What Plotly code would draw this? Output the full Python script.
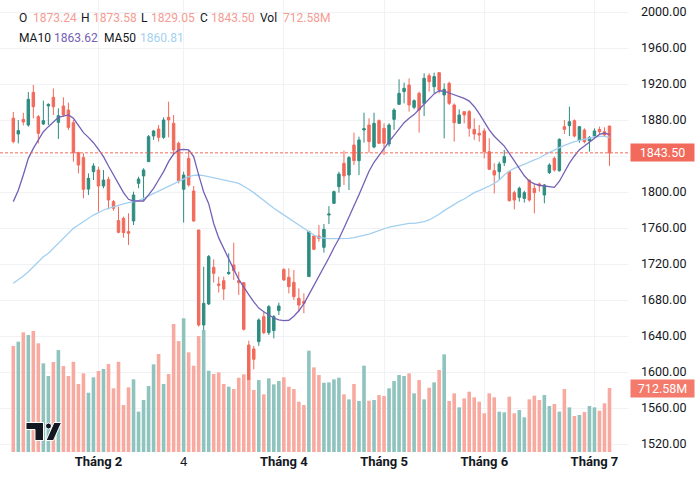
import plotly.graph_objects as go

# ---------------- data ----------------
opens = [1882, 1864.4, 1880.7, 1874.4, 1910.7, 1883.7, 1875.6, 1895.6, 1905.2, 1877.4,
         1895.6, 1891.1, 1877, 1843.7, 1838.2, 1803.2, 1822.6, 1824.4, 1806.7, 1814,
         1789.3, 1768.2, 1770.7, 1756, 1767.8, 1809.6, 1817.8, 1833.7, 1862.2, 1870,
         1860.7, 1883, 1876.3, 1854.1, 1803, 1837.4, 1801.1, 1757.8, 1652.2, 1675.6,
         1716.3, 1697.8, 1701.5, 1709.3, 1718.9, 1701.5, 1699.3, 1630, 1625.6, 1633.7,
         1661.5, 1643.7, 1646, 1668.2, 1714, 1705.2, 1699.6, 1681.9, 1678.2, 1706,
         1751.1, 1751.1, 1738.5, 1774.4, 1787.4, 1805.9, 1831.9, 1818.9, 1852.2, 1834.8,
         1868.9, 1874.4, 1850, 1879.3, 1870.7, 1853.3, 1880.7, 1897.4, 1911.5, 1918.9,
         1894.1, 1909.6, 1898.5, 1929.3, 1917, 1932.6, 1907.8, 1920.7, 1896.7, 1876.3,
         1889.3, 1889.3, 1869.6, 1865.2, 1867.8, 1844.8, 1823.7, 1822.6, 1832.6, 1822.6,
         1799.3, 1794.1, 1792.9, 1813.3, 1804.1, 1808.9, 1796.7, 1821.5, 1837.4, 1823.7,
         1872.6, 1873.7, 1879.3, 1857.8, 1868.9, 1857, 1862.2, 1869.6, 1867, 1873.24]
highs = [1889, 1880, 1888, 1911, 1919, 1885.6, 1901.5, 1898.5, 1915, 1893,
         1905.2, 1899.3, 1880, 1844.8, 1843, 1820.7, 1831.9, 1828.1, 1824.4, 1817,
         1791.1, 1783.7, 1772.6, 1776.3, 1800.4, 1817, 1826.3, 1863.3, 1868.9, 1874.4,
         1883, 1900.4, 1885.6, 1856, 1822.6, 1846.7, 1806.7, 1757.8, 1717, 1730,
         1725.2, 1706, 1706, 1731.9, 1743.7, 1711.5, 1700, 1634.8, 1629, 1659.6,
         1667, 1674.4, 1663.3, 1677, 1715.2, 1715.2, 1713.3, 1693, 1687.4, 1757,
         1752.2, 1763.3, 1764.4, 1784.4, 1801.5, 1822.6, 1846, 1840, 1866, 1861.5,
         1888.1, 1881.9, 1888.1, 1880.7, 1876.3, 1876.3, 1893, 1925.2, 1921.5, 1926.3,
         1903, 1911.5, 1931.9, 1931.9, 1932.6, 1932.6, 1920.7, 1922.6, 1898.5, 1891.9,
         1889.3, 1891.1, 1881.9, 1874.4, 1870.7, 1859.6, 1831.9, 1833.7, 1846.7, 1822.6,
         1801.5, 1806, 1801.5, 1813.3, 1809.6, 1810.4, 1808.9, 1831.9, 1839.3, 1859.6,
         1880, 1894.8, 1880.7, 1873.3, 1870.7, 1862.2, 1870.7, 1872.6, 1871.9, 1873.58]
lows = [1854, 1854, 1874, 1872.6, 1882, 1854, 1874.4, 1874.4, 1885.6, 1859,
        1883.7, 1869, 1833.7, 1820.7, 1793, 1796.7, 1813.3, 1778.2, 1804.1, 1780.7,
        1779.3, 1754.1, 1749.3, 1741.1, 1763.3, 1804.1, 1791.1, 1833.7, 1857.8, 1856,
        1859, 1860.7, 1841.1, 1809.6, 1766, 1806, 1767, 1650.4, 1645, 1674.4,
        1699.3, 1688.2, 1680, 1707.8, 1702.2, 1685.6, 1646, 1583.7, 1603, 1629,
        1641.9, 1641.1, 1637.4, 1663.3, 1701.5, 1687.4, 1680, 1667, 1665.2, 1706,
        1735.6, 1744.8, 1732.6, 1764.4, 1786.7, 1799.3, 1807.8, 1802.2, 1830, 1818.9,
        1854.8, 1843.7, 1848.5, 1853.3, 1841.1, 1850.4, 1869, 1896.7, 1898.5, 1889.3,
        1891.9, 1866, 1884.4, 1911.5, 1909.6, 1909.6, 1859.6, 1896.7, 1856, 1875.6,
        1876.3, 1861.5, 1857.8, 1855.9, 1837.4, 1824.4, 1798.5, 1813.3, 1828.9, 1789.3,
        1780.7, 1789.3, 1788.2, 1789.3, 1776.3, 1800.4, 1787.4, 1820, 1822.6, 1822.6,
        1864.4, 1862.2, 1860.7, 1854.8, 1854.1, 1844.8, 1860.7, 1863.3, 1862.2, 1829.05]
closes = [1856, 1868.2, 1877.8, 1903, 1894.8, 1865.2, 1879.3, 1897.4, 1894.8, 1884.8,
          1885.6, 1871.8, 1843.7, 1830, 1803, 1815.2, 1828.9, 1806.7, 1813.3, 1791.1,
          1781.9, 1755.2, 1754.8, 1754.1, 1796.7, 1814.4, 1824.4, 1861.5, 1867.8, 1860.7,
          1880, 1880, 1846.7, 1812.6, 1818.9, 1807.8, 1767.8, 1652.2, 1676.3, 1728.2,
          1709.6, 1696.3, 1692.2, 1710.7, 1712.6, 1699.3, 1647.4, 1591.1, 1614.1, 1657.8,
          1643.7, 1672.6, 1661.5, 1673.4, 1702.2, 1694.8, 1683.7, 1674.4, 1676.3, 1756,
          1736.3, 1748.5, 1758.5, 1775.6, 1800.4, 1820, 1817.8, 1838.2, 1834.8, 1857.8,
          1870.4, 1856, 1876.3, 1854.1, 1854.1, 1874.4, 1891.1, 1909.6, 1915.2, 1896.7,
          1901.5, 1891.1, 1926.3, 1922.6, 1928.2, 1913.3, 1914.1, 1898.5, 1877, 1885.6,
          1885.6, 1870.7, 1864.4, 1863.3, 1844.8, 1825.2, 1818.9, 1831.1, 1839.3, 1790.4,
          1791.1, 1804.1, 1799.3, 1791.1, 1799.3, 1806.7, 1807.8, 1830, 1824.4, 1858.5,
          1869.6, 1878.1, 1862.2, 1872.6, 1855.9, 1860.7, 1867.8, 1867, 1863.3, 1843.50]
volumes_m = [1180, 1228, 1332, 1302, 1347, 1210, 987, 846, 1002, 1135,
             957, 846, 1005, 757, 876, 660, 831, 902, 924, 979,
             709, 1005, 523, 720, 809, 449, 579, 735, 976, 1091,
             757, 868, 1425, 1235, 1488, 1110, 961, 1291, 1358, 905,
             868, 887, 757, 727, 701, 827, 865, 801, 690, 801,
             642, 820, 753, 790, 831, 727, 701, 560, 523, 1128,
             942, 857, 771, 775, 809, 827, 642, 586, 757, 568,
             961, 571, 579, 634, 623, 709, 790, 857, 846, 876,
             653, 801, 586, 716, 775, 913, 1087, 568, 653, 497,
             597, 671, 609, 560, 431, 653, 609, 449, 442, 616,
             431, 467, 386, 586, 627, 579, 634, 512, 534, 449,
             701, 497, 401, 412, 445, 512, 497, 460, 542, 712.58]
ma10 = [1789.3, 1802.0, 1818.9, 1837.4, 1848.5, 1857.8, 1867.0, 1872.6, 1878.1, 1883.0,
        1884.4, 1885.6, 1881.9, 1874.4, 1865.9, 1860.7, 1854.8, 1847.4, 1839.3, 1828.9,
        1818.9, 1808.9, 1799.3, 1791.9, 1790.0, 1790.0, 1790.0, 1796.7, 1804.1, 1813.3,
        1822.6, 1833.7, 1842.2, 1846.7, 1847.4, 1846.7, 1839.3, 1819.0, 1800.0, 1787.0,
        1765.0, 1749.0, 1737.0, 1726.0, 1714.0, 1703.0, 1694.0, 1686.0, 1678.0, 1671.0,
        1667.0, 1663.0, 1660.0, 1658.0, 1657.0, 1657.5, 1662.0, 1668.0, 1676.0, 1686.0,
        1696.0, 1706.0, 1716.0, 1727.0, 1738.0, 1748.0, 1760.0, 1772.0, 1784.0, 1797.0,
        1810.0, 1823.0, 1833.0, 1841.0, 1849.0, 1856.0, 1863.0, 1870.0, 1877.0, 1882.0,
        1886.0, 1892.0, 1898.0, 1904.0, 1909.0, 1912.5, 1912.0, 1910.0, 1908.0, 1906.0,
        1904.0, 1901.0, 1895.0, 1887.0, 1878.0, 1869.0, 1862.0, 1857.0, 1851.0, 1843.0,
        1835.0, 1826.0, 1818.0, 1812.0, 1809.0, 1807.5, 1806.5, 1806.0, 1805.2, 1812.0,
        1822.0, 1832.0, 1840.0, 1847.0, 1851.0, 1855.0, 1860.0, 1864.0, 1865.5, 1863.62]
ma50 = [1698.5, 1702.2, 1706.7, 1711.5, 1717.0, 1722.6, 1728.1, 1731.9, 1737.4, 1743.0,
        1748.5, 1754.1, 1759.6, 1763.3, 1767.0, 1770.7, 1774.4, 1777.0, 1780.0, 1781.9,
        1783.7, 1785.6, 1786.7, 1788.1, 1789.3, 1790.4, 1793.0, 1795.6, 1798.5, 1801.1,
        1803.3, 1805.9, 1808.9, 1811.5, 1814.1, 1817.0, 1818.5, 1818.9, 1818.1, 1817.0,
        1816.3, 1814.8, 1813.3, 1812.6, 1811.1, 1809.6, 1806.7, 1803.0, 1799.3, 1794.8,
        1791.1, 1786.3, 1781.9, 1778.2, 1774.4, 1770.7, 1767.0, 1763.3, 1759.6, 1755.9,
        1752.2, 1749.6, 1748.5, 1748.1, 1748.1, 1748.1, 1748.3, 1748.5, 1749.3, 1750.4,
        1751.5, 1753.3, 1755.2, 1757.4, 1759.3, 1761.1, 1762.2, 1763.3, 1764.4, 1765.2,
        1765.2, 1765.9, 1767.0, 1768.9, 1771.9, 1775.2, 1779.3, 1783.0, 1786.7, 1789.6,
        1792.2, 1795.6, 1799.3, 1801.5, 1803.7, 1806.7, 1809.6, 1813.3, 1818.9, 1823.3,
        1826.3, 1828.9, 1831.1, 1833.3, 1835.6, 1837.8, 1841.1, 1844.1, 1846.7, 1849.3,
        1851.9, 1854.1, 1856.0, 1857.4, 1858.9, 1860.0, 1861.1, 1861.9, 1861.9, 1860.81]

tick_idx = [17, 34, 54, 74, 94, 116]
tick_text = ["<b>Tháng 2</b>", "4", "<b>Tháng 4</b>", "<b>Tháng 5</b>", "<b>Tháng 6</b>", "<b>Tháng 7</b>"]
price_ticks = [1520, 1560, 1600, 1640, 1680, 1720, 1760, 1800, 1840, 1880, 1920, 1960, 2000]

last_o, last_h, last_l, last_c = 1873.24, 1873.58, 1829.05, 1843.50
last_vol_label = "712.58M"
last_ma10, last_ma50 = 1863.62, 1860.81

# ---------------- styling ----------------
UP, DOWN = "#2e8c80", "#f26a5b"
VUP, VDOWN = "#8fc3be", "#f8aaa0"
MA10_C, MA50_C = "#7560b5", "#a3d0f0"
VAL_C = "#f59b92"
TXT = "#131722"
FONT = "Roboto"

W, H = 700, 488
ML, MR, MT, MB = 0, 72, 0, 36
PW, PH = W - ML - MR, H - MT - MB

def px(x):
    return (x - ML) / PW

def py(y):
    return 1 - (y - MT) / PH

x = list(range(len(closes)))
vol_colors = [VUP if c >= o else VDOWN for o, c in zip(opens, closes)]

fig = go.Figure()
fig.add_trace(go.Bar(x=x, y=volumes_m, marker_color=vol_colors, marker_line_width=0,
                     yaxis="y2", hoverinfo="skip", showlegend=False))
fig.add_trace(go.Candlestick(x=x, open=opens, high=highs, low=lows, close=closes,
                             increasing=dict(line=dict(color=UP, width=1), fillcolor=UP),
                             decreasing=dict(line=dict(color=DOWN, width=1), fillcolor=DOWN),
                             whiskerwidth=0, showlegend=False, hoverinfo="skip"))
fig.add_trace(go.Scatter(x=x, y=ma50, mode="lines", line=dict(color=MA50_C, width=1.3),
                         showlegend=False, hoverinfo="skip"))
fig.add_trace(go.Scatter(x=x, y=ma10, mode="lines", line=dict(color=MA10_C, width=1.3),
                         showlegend=False, hoverinfo="skip"))

# price scale: 2000 at y=12px, 1520 at y=444px
ppp = (444 - 12) / (2000 - 1520)
y_top = 2000 + 12 / ppp
y_bot = 2000 - (PH - 12) / ppp
# volume scale: 0 at bottom, 712.58 at y=388px
v_per_px = volumes_m[-1] / (PH - 388)
v_max = PH * v_per_px
# x scale: first bar at 13.3px, spacing 5.01px
x0 = -13.3 / 5.01
x1 = (PW - 13.3) / 5.01

# the 1840 tick label is hidden behind the last-price label in the reference
price_text = ["" if v == 1840 else f"{v:.2f}" for v in price_ticks]

fig.update_layout(
    width=W, height=H, margin=dict(l=ML, r=MR, t=MT, b=MB),
    paper_bgcolor="white", plot_bgcolor="white",
    font=dict(family=FONT, size=12.5, color=TXT),
    bargap=0.28, showlegend=False,
    xaxis=dict(range=[x0, x1], tickvals=tick_idx, ticktext=tick_text, showgrid=True,
               gridcolor="#f0f2f6", gridwidth=1, zeroline=False, showline=False,
               ticks="", rangeslider=dict(visible=False), tickfont=dict(size=13, color=TXT),
               fixedrange=True),
    yaxis=dict(range=[y_bot, y_top], side="right", tickvals=price_ticks,
               ticktext=price_text, showgrid=True,
               gridcolor="#f0f2f6", zeroline=False, showline=False, ticks="",
               ticklabelstandoff=12, tickfont=dict(size=12.5, color=TXT)),
    yaxis2=dict(range=[0, v_max], overlaying="y", visible=False),
)

# last-price dashed line
fig.add_shape(type="line", xref="paper", x0=0, x1=1, yref="y", y0=last_c, y1=last_c,
              line=dict(color=DOWN, width=1, dash="3px,2px"))

# right-side labels
fig.add_annotation(xref="paper", x=1, xanchor="left", xshift=2, yref="y", y=last_c,
                   text=f"{last_c:.2f}", showarrow=False, bgcolor=DOWN,
                   font=dict(color="white", size=12.5, family=FONT),
                   width=61, height=15, borderpad=1)
fig.add_annotation(xref="paper", x=1, xanchor="left", xshift=2, yref="y2", y=volumes_m[-1],
                   text=last_vol_label, showarrow=False, bgcolor="#f47a6c",
                   font=dict(color="white", size=12.5, family=FONT),
                   width=61, height=15, borderpad=1)

# legend text, each piece pinned to where it sits in the reference
legend_items = [
    (18, 18, "O", TXT), (32, 18, f"{last_o:.2f}", VAL_C),
    (80, 18, "H", TXT), (92, 18, f"{last_h:.2f}", VAL_C),
    (140, 18, "L", TXT), (150, 18, f"{last_l:.2f}", VAL_C),
    (199, 18, "C", TXT), (210, 18, f"{last_c:.2f}", VAL_C),
    (259, 18, "Vol", TXT), (282, 18, last_vol_label, VAL_C),
    (18, 38, "MA10", TXT), (53, 38, f"{last_ma10:.2f}", MA10_C),
    (103, 38, "MA50", TXT), (139, 38, f"{last_ma50:.2f}", MA50_C),
]
for lx, ly, t, c in legend_items:
    fig.add_annotation(xref="paper", yref="paper", x=px(lx), y=py(ly), xanchor="left",
                       yanchor="middle", text=t, showarrow=False, borderpad=0,
                       font=dict(size=12, color=c, family=FONT))

# TradingView-style logo (decoration)
def path(pts):
    return "M " + " L ".join(f"{px(a):.5f},{py(b):.5f}" for a, b in pts) + " Z"

logo_c = "#131722"
fig.add_shape(type="path", xref="paper", yref="paper",
              path=path([(26, 422.5), (43.5, 422.5), (43.5, 440.5), (35, 440.5), (35, 429.5), (26, 429.5)]),
              fillcolor=logo_c, line=dict(color="white", width=1))
fig.add_shape(type="circle", xref="paper", yref="paper", x0=px(45.5), x1=px(51.5), y0=py(429), y1=py(423),
              fillcolor=logo_c, line=dict(color="white", width=1))
fig.add_shape(type="path", xref="paper", yref="paper",
              path=path([(46, 440.5), (53.5, 440.5), (61.5, 422.5), (54, 422.5)]),
              fillcolor=logo_c, line=dict(color="white", width=1))

fig.write_html("out.html")
